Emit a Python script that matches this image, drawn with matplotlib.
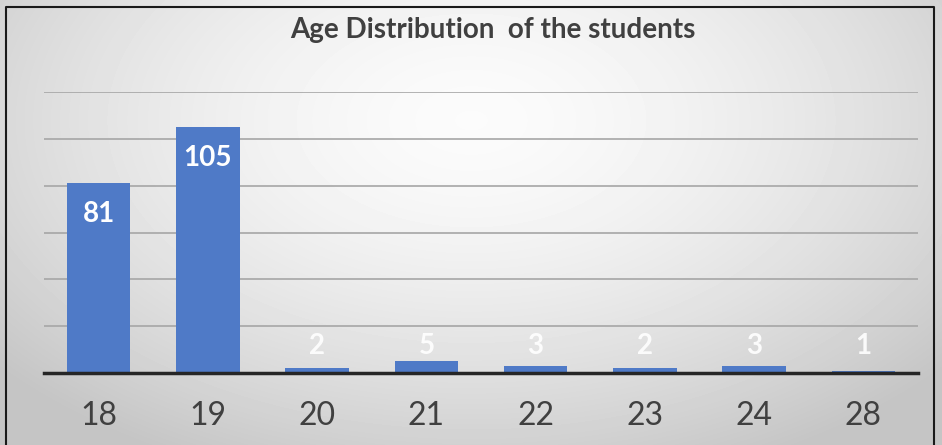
import numpy as np
import matplotlib.pyplot as plt

ages = ['18', '19', '20', '21', '22', '23', '24', '28']
counts = [81, 105, 2, 5, 3, 2, 3, 1]

bar_color = '#4f7ac7'
text_gray = '#404040'

plt.rcParams['font.family'] = ['Lato', 'DejaVu Sans']

fig = plt.figure(figsize=(9.42, 4.45), dpi=100)

# soft grey radial background
bg = fig.add_axes([0, 0, 1, 1], zorder=-1)
yy, xx = np.mgrid[0:445, 0:942]
r = np.sqrt(((xx - 471) / 540.0) ** 2 + ((yy - 120) / 330.0) ** 2)
shade = np.clip(0.985 - 0.17 * r ** 1.6, 0.77, 1.0)
bg.imshow(shade, cmap='gray', vmin=0, vmax=1, aspect='auto', extent=[0, 1, 0, 1])
bg.plot([0.006, 0.006, 0.992, 0.992], [0, 0.985, 0.985, 0], color='#1a1a1a',
        lw=1.5, transform=bg.transAxes)
bg.set_xlim(0, 1)
bg.set_ylim(0, 1)
bg.axis('off')

ax = fig.add_axes([44 / 942, 1 - 373 / 445, 874 / 942, 281 / 445])
ax.patch.set_alpha(0)
x = np.arange(len(ages))
ax.bar(x, counts, width=0.58, color=bar_color, zorder=3)

ax.set_ylim(0, 120)
ax.set_xlim(-0.5, len(ages) - 0.5)
ax.set_yticks(np.arange(20, 121, 20))
ax.yaxis.grid(True, color='#a6a6a6', lw=1.2, zorder=0)
ax.tick_params(axis='y', length=0, labelleft=False)
ax.tick_params(axis='x', length=0, pad=20, labelsize=23, labelcolor=text_gray)
ax.set_xticks(x)
ax.set_xticklabels(ages)
for side in ['top', 'right', 'left']:
    ax.spines[side].set_visible(False)
ax.spines['bottom'].set_color('#262626')
ax.spines['bottom'].set_linewidth(2.5)
ax.spines['bottom'].set_zorder(4)

# value labels: inside the bar top, or just above short bars
for xi, v in zip(x, counts):
    if v > 20:
        ax.text(xi, v - 13, str(v), ha='center', va='center', color='white',
                fontsize=20, fontweight='bold', zorder=5)
    else:
        ax.text(xi, 11.5, str(v), ha='center', va='center', color='white',
                fontsize=20, fontweight='bold', alpha=0.9, zorder=5)

fig.text(493 / 942, 1 - 30 / 445, 'Age Distribution  of the students', ha='center',
         va='center', fontsize=20, fontweight='bold', color=text_gray)

fig.savefig('out.png', dpi=100)
